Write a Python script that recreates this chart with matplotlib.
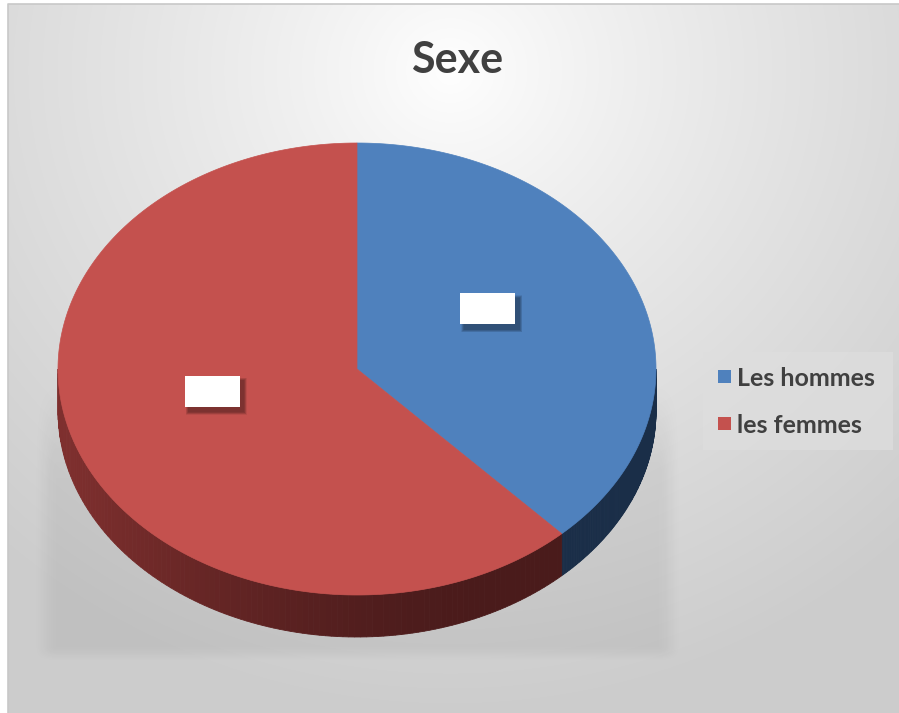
import numpy as np
import matplotlib
matplotlib.use("Agg")
import matplotlib.pyplot as plt
from matplotlib.patches import Polygon, Rectangle

# ---- data ----
title = "Sexe"
categories = ["Les hommes", "les femmes"]
values = [38, 62]
top_colors = ["#4f81bd", "#c4514e"]
side_light = ["#22406a", "#7e2f2e"]
side_dark = ["#1a2e48", "#4a1b1b"]

W, H = 899, 713
fig = plt.figure(figsize=(W / 100, H / 100), dpi=100)
ax = fig.add_axes([0, 0, 1, 1])
ax.set_xlim(0, W)
ax.set_ylim(H, 0)
ax.axis("off")
fig.patch.set_facecolor("white")

# ---- chart area background: radial gradient ----
x0, y0 = 8, 4
yy, xx = np.mgrid[y0:H, x0:W]
d = np.hypot(xx - 450, (yy - 70) * 1.05)
v = 1 - 0.2 * np.clip(d / 680, 0, 1) ** 0.85
bg = np.dstack([v, v, v])
ax.imshow(bg, extent=(x0, W, H, y0), zorder=0, interpolation="bilinear")
ax.plot([x0, x0, W], [H, y0, y0], color="#c8c8c8", lw=1.2, zorder=1)

# ---- soft shadow behind the pie ----
def smooth(t):
    t = np.clip(t, 0, 1)
    return t * t * (3 - 2 * t)

sx = smooth((xx - 32) / 24) * smooth((682 - xx) / 24)
sy = smooth((yy - 370) / 110) * smooth((662 - yy) / 16)
alpha = 0.055 * sx * sy
shadow = np.zeros((yy.shape[0], yy.shape[1], 4))
shadow[..., 3] = alpha
ax.imshow(shadow, extent=(x0, W, H, y0), zorder=1, interpolation="bilinear")

# ---- 3D pie geometry ----
cx, cy, a, b, depth = 357, 369, 299, 226, 42
fr = np.array(values, float) / np.sum(values)
bounds = np.concatenate([[0], np.cumsum(fr)]) * 2 * np.pi  # clockwise from 12 o'clock

def pt(t, dy=0.0):
    return cx + a * np.sin(t), cy - b * np.cos(t) + dy

def mix(c1, c2, f):
    c1 = np.array(matplotlib.colors.to_rgb(c1))
    c2 = np.array(matplotlib.colors.to_rgb(c2))
    return tuple(c1 * (1 - f) + c2 * f)

# side walls (only the front half, angles between 90 and 270 degrees)
lo, hi = np.pi / 2, 3 * np.pi / 2
for i in range(len(values)):
    s, e = max(bounds[i], lo), min(bounds[i + 1], hi)
    if e <= s:
        continue
    ts = np.linspace(s, e, 120)
    for j in range(len(ts) - 1):
        t1, t2 = ts[j], ts[j + 1]
        f = (0.5 * (t1 + t2) - lo) / (hi - lo)  # 0 at right, 1 at left
        col = mix(side_dark[i], side_light[i], smooth((f - 0.35) / 0.6))
        x1, y1 = pt(t1)
        x2, y2 = pt(t2)
        ax.add_patch(Polygon([(x1, y1), (x2, y2), (x2, y2 + depth), (x1, y1 + depth)],
                             closed=True, facecolor=col, edgecolor=col, lw=0.6, zorder=3))

# top faces
for i in range(len(values)):
    ts = np.linspace(bounds[i], bounds[i + 1], 300)
    xs, ys = pt(ts)
    verts = [(cx, cy)] + list(zip(xs, ys))
    ax.add_patch(Polygon(verts, closed=True, facecolor=top_colors[i],
                         edgecolor=top_colors[i], lw=0.5, zorder=4))

# ---- data label boxes (empty labels) ----
label_r = [0.47, 0.52]
for i in range(len(values)):
    mid = 0.5 * (bounds[i] + bounds[i + 1])
    lx, ly = pt(mid)
    lx = cx + (lx - cx) * label_r[i]
    ly = cy + (ly - cy) * label_r[i] - 21
    bw, bh = 55, 31
    for k in range(6):
        g = 6 - k
        ax.add_patch(Rectangle((lx - bw / 2 + 4 - g / 2, ly - bh / 2 + 5 - g / 2), bw + g, bh + g,
                               facecolor="black", edgecolor="none", alpha=0.07, zorder=5))
    ax.add_patch(Rectangle((lx - bw / 2, ly - bh / 2), bw, bh,
                           facecolor="white", edgecolor="none", zorder=6))

# ---- title ----
font = "Lato"
ax.text(457, 73, title, ha="center", va="baseline", fontsize=31,
        fontweight="bold", family=[font, "DejaVu Sans"], color="#404040", zorder=7)

# ---- legend ----
ax.add_patch(Rectangle((703, 352), 190, 98, facecolor="#dedede", edgecolor="none",
                       alpha=0.7, zorder=5))
base_y = [386, 433]
for i, name in enumerate(categories):
    ax.add_patch(Rectangle((718, base_y[i] - 16), 13, 13, facecolor=top_colors[i],
                           edgecolor="none", zorder=6))
    ax.text(737, base_y[i], name, ha="left", va="baseline", fontsize=18,
            fontweight="bold", family=[font, "DejaVu Sans"], color="#404040", zorder=7)

fig.savefig("out.png", dpi=100)
